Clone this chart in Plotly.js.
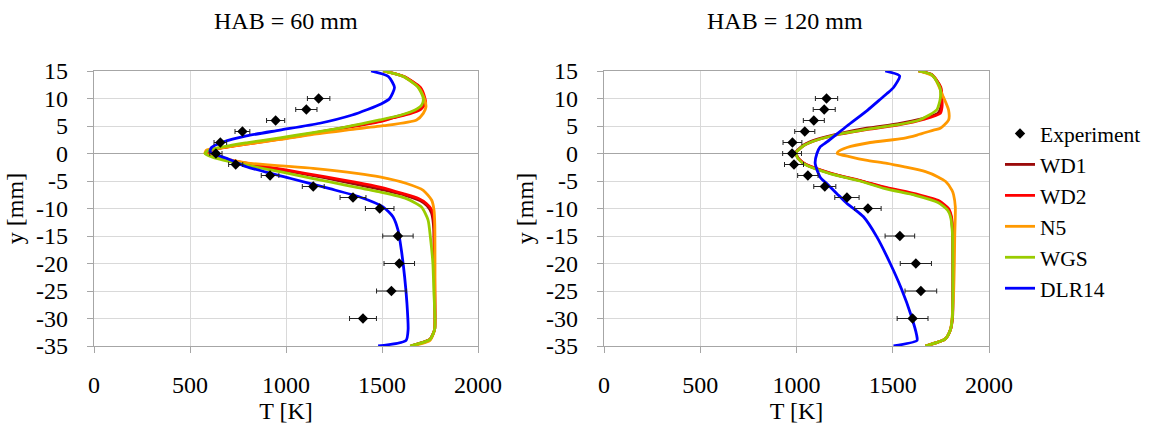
<!DOCTYPE html>
<html>
<head>
<meta charset="utf-8">
<script src="https://cdn.plot.ly/plotly-3.0.1.min.js"></script>
<style>html,body{margin:0;padding:0;background:#fff;}#chart{width:1153px;height:428px;}</style>
</head>
<body>
<div id="chart"></div>
<script>
// ---------- data ----------
const seriesNames = ['WD1', 'WD2', 'N5', 'WGS', 'DLR14'];
const panelTitles = ['HAB = 60 mm', 'HAB = 120 mm'];
const xTickVals = [0, 500, 1000, 1500, 2000];
const yTickVals = [15, 10, 5, 0, -5, -10, -15, -20, -25, -30, -35];
const yTickText = ['15', '10', '5', '0', '-5', '-10', '-15', '-20', '-25', '-30', '-35'];

// Experiment
const expY = [10, 8, 6, 4, 2, 0, -2, -4, -6, -8, -10, -15, -20, -25, -30];
const expL_T = [1170, 1106, 946, 773, 658, 635, 738, 917, 1142, 1349, 1488, 1583, 1590, 1549, 1401];
const expR_T = [1156, 1144, 1090, 1043, 979, 977, 987, 1059, 1147, 1262, 1371, 1537, 1620, 1646, 1603];
const expErrPercent = 5;

// HAB = 60 mm
const L_WD1_y = [15,14,12,10,9,8,7.2,6.3,5.9,4.7,3.7,2.7,1.8,1,0.4,0,-0.6,-1.9,-3.1,-4.4,-5.5,-6.5,-7.6,-8.6,-9.5,-10.8,-12,-14,-20,-25,-30,-32,-33.8,-35];
const L_WD1_T = [1507,1613,1695,1720,1718,1690,1630,1530,1488,1300,1141,968,794,660,594,585,625,800,1000,1200,1350,1488,1620,1700,1735,1758,1765,1770,1772,1774,1776,1774,1750,1648];
const L_WD2_y = [15,14,12,10,9.1,8,7.3,6.5,5.8,4.6,3.6,2.6,1.7,1,0.4,0,-0.6,-1.8,-3,-4.2,-5.2,-6.1,-7.3,-8.2,-9.1,-10.3,-11.5,-13,-15,-20,-25,-30,-32,-33.8,-35];
const L_WD2_T = [1507,1615,1700,1724,1727,1700,1650,1560,1488,1300,1141,968,794,666,600,590,630,800,1000,1200,1360,1488,1610,1690,1731,1760,1768,1772,1772,1773,1775,1776,1774,1750,1650];
const L_N5_y = [15,14,12,10,8.5,7.3,6.1,5.05,4.25,3.5,2.55,1.7,1,0.6,0,-0.6,-1.7,-2.7,-3.6,-4.25,-5.45,-6.7,-8.5,-10.3,-13,-20,-25,-30,-32,-34,-35];
const L_N5_T = [1507,1611,1690,1720,1729,1715,1680,1507,1315,1141,968,794,656,586,578,640,794,1141,1368,1488,1628,1715,1759,1771,1775,1776,1776,1776,1774,1750,1654];
const L_WGS_y = [15,14,12,10,8.8,7.9,7,6.1,4.85,3.8,2.85,1.95,1.1,0.3,0,-0.7,-2.1,-3.3,-4.55,-5.8,-7,-8.2,-9.7,-12.1,-15.2,-20,-25,-30,-32,-33.8,-35];
const L_WGS_T = [1507,1611,1689,1715,1707,1672,1600,1488,1315,1141,968,794,656,586,578,620,794,968,1141,1315,1488,1627,1705,1740,1752,1765,1770,1776,1774,1750,1646];
const L_DLR14_y = [15,14,12,10,9,8,7,5.5,4.25,3.2,2.1,1.1,0.3,0,-1,-2.4,-4.5,-6.4,-7.9,-9.7,-11.5,-14,-17.6,-22.5,-27.3,-32,-34,-35];
const L_DLR14_T = [1443,1533,1565,1540,1495,1425,1345,1176,968,794,673,612,604,618,700,794,1020,1228,1384,1505,1557,1584,1601,1618,1630,1636,1625,1480];

// HAB = 120 mm
const R_WD1_y = [15,14.3,12,10,8.5,7.3,6.3,5.4,4.6,3.6,2.6,1.6,0.4,0,-1,-2,-3.6,-5,-6.3,-7.5,-8.7,-10.1,-11.5,-14.5,-20,-25,-29.7,-32,-33.7,-35];
const R_WD1_T = [1634,1704,1748,1752,1750,1735,1650,1525,1365,1222,1110,1040,1000,998,1012,1048,1176,1336,1468,1622,1738,1788,1803,1811,1812,1812,1810,1800,1773,1669];
const R_WD2_y = [15,14.3,12,10,8.5,7.3,6.2,5.2,4.4,3.5,2.5,1.5,0.3,0,-1,-2,-3.6,-5,-6.2,-7.4,-8.6,-10,-11.5,-14.5,-20,-25,-29.7,-32,-33.7,-35];
const R_WD2_T = [1634,1705,1750,1756,1756,1747,1660,1530,1370,1225,1110,1040,1000,998,1012,1050,1180,1340,1470,1625,1740,1790,1805,1812,1813,1813,1811,1800,1773,1669];
const R_N5_y = [15,14,10.5,7.9,6.1,4.6,4.25,3.35,2.75,2,1.1,0.3,0,-0.6,-1.2,-1.8,-2.4,-3.3,-4.25,-5.1,-6.7,-7.5,-9.7,-15,-20,-25.5,-30.3,-32,-33.7,-35];
const R_N5_T = [1634,1712,1760,1790,1790,1747,1712,1626,1556,1383,1262,1215,1212,1280,1360,1470,1556,1670,1735,1775,1808,1816,1825,1822,1820,1816,1807,1800,1773,1669];
const R_WGS_y = [15,14.3,12,10,8,7,6,5.2,4.4,3.5,2.5,1.5,0.3,0,-1,-2,-3.6,-5,-6.4,-7.6,-8.9,-10.3,-11.5,-14.5,-20,-25,-29.7,-32,-33.7,-35];
const R_WGS_T = [1634,1703,1745,1747,1730,1690,1630,1520,1360,1220,1110,1040,1000,998,1010,1045,1170,1330,1460,1617,1735,1785,1800,1810,1812,1812,1810,1800,1773,1669];
const R_DLR14_y = [15,14.1,12,10.9,10,7.9,5,2.1,1.2,0,-1.8,-4.3,-5.5,-7.3,-9.1,-10,-11.5,-15.2,-20,-24.6,-29.4,-33,-34,-35];
const R_DLR14_T = [1461,1536,1504,1470,1440,1370,1262,1158,1123,1106,1097,1123,1158,1210,1262,1296,1348,1418,1487,1545,1595,1624,1626,1504];

// ---------- styling ----------
const colors = {WD1: '#9B0A0A', WD2: '#FF0000', N5: '#FF9900', WGS: '#99CC00', DLR14: '#0000FF'};
const FONT = 'Liberation Serif';
const W = 1153, H = 428;
const plotTop = 71, plotBottom = 346;
const mT = plotTop, mB = H - plotBottom;
const leftDom = [94 / W, 478 / W];
const rightDom = [604 / W, 989 / W];

const left = {WD1: [L_WD1_T, L_WD1_y], WD2: [L_WD2_T, L_WD2_y], N5: [L_N5_T, L_N5_y], WGS: [L_WGS_T, L_WGS_y], DLR14: [L_DLR14_T, L_DLR14_y]};
const right = {WD1: [R_WD1_T, R_WD1_y], WD2: [R_WD2_T, R_WD2_y], N5: [R_N5_T, R_N5_y], WGS: [R_WGS_T, R_WGS_y], DLR14: [R_DLR14_T, R_DLR14_y]};

const traces = [];
[[left, 'x', 'y', true], [right, 'x2', 'y2', false]].forEach(([set, xa, ya, show]) => {
  seriesNames.forEach((n, i) => {
    traces.push({
      type: 'scatter', mode: 'lines', name: n,
      x: set[n][0], y: set[n][1], xaxis: xa, yaxis: ya,
      line: {color: colors[n], width: 2.8, shape: 'spline', smoothing: 0.6},
      showlegend: show, legendgroup: n, legendrank: 2 + i,
      hoverinfo: 'skip'
    });
  });
});
[[expL_T, 'x', 'y', true], [expR_T, 'x2', 'y2', false]].forEach(([T, xa, ya, show]) => {
  traces.push({
    type: 'scatter', mode: 'markers', name: 'Experiment',
    x: T, y: expY, xaxis: xa, yaxis: ya,
    marker: {symbol: 'diamond', size: 8, color: '#000000'},
    error_x: {type: 'percent', value: expErrPercent, color: '#222222', thickness: 1, width: 2.5},
    showlegend: show, legendgroup: 'exp', legendrank: 1
  });
});

const txtFont = (s) => ({family: FONT, size: s, color: '#000'});

function xax(dom, anchor) {
  return {
    domain: dom, anchor: anchor, range: [0, 2000], tickvals: xTickVals,
    showgrid: true, gridcolor: '#D9D9D9', gridwidth: 1,
    showline: true, linecolor: '#A6A6A6', linewidth: 1.2, mirror: true,
    ticks: 'outside', ticklen: 6, tickcolor: '#A6A6A6', tickwidth: 1,
    zeroline: false, ticklabelstandoff: 11,
    tickfont: txtFont(24),
    title: {text: 'T [K]', font: txtFont(24), standoff: 2},
    fixedrange: true
  };
}
function yax(anchor) {
  return {
    domain: [0, 1], anchor: anchor, range: [-35, 15], tickvals: yTickVals, ticktext: yTickText,
    showgrid: true, gridcolor: '#D9D9D9', gridwidth: 1,
    showline: true, linecolor: '#A6A6A6', linewidth: 1.2, mirror: true,
    ticks: 'outside', ticklen: 6, tickcolor: '#A6A6A6', tickwidth: 1,
    zeroline: true, zerolinecolor: '#A6A6A6', zerolinewidth: 1.5,
    ticklabelstandoff: 14,
    tickfont: txtFont(24),
    title: {text: 'y [mm]', font: txtFont(24), standoff: 5},
    fixedrange: true
  };
}

const layout = {
  width: W, height: H,
  margin: {l: 0, r: 0, t: mT, b: mB, pad: 0},
  paper_bgcolor: '#fff', plot_bgcolor: '#fff',
  font: txtFont(24),
  xaxis: xax(leftDom, 'y'), yaxis: yax('x'),
  xaxis2: xax(rightDom, 'y2'), yaxis2: yax('x2'),
  showlegend: true,
  legend: {
    x: 1000 / W, xanchor: 'left', y: (plotBottom - 113) / (plotBottom - plotTop), yanchor: 'top',
    font: txtFont(21.5), bgcolor: 'rgba(0,0,0,0)',
    tracegroupgap: 0, itemwidth: 30
  },
  annotations: [
    {text: panelTitles[0], xref: 'x domain', yref: 'paper', x: 0.5, y: 1, yanchor: 'bottom', yshift: 35, showarrow: false, font: txtFont(24)},
    {text: panelTitles[1], xref: 'x2 domain', yref: 'paper', x: 0.47, y: 1, yanchor: 'bottom', yshift: 35, showarrow: false, font: txtFont(24)}
  ]
};

Plotly.newPlot('chart', traces, layout, {displayModeBar: false, staticPlot: true});
</script>
</body>
</html>
